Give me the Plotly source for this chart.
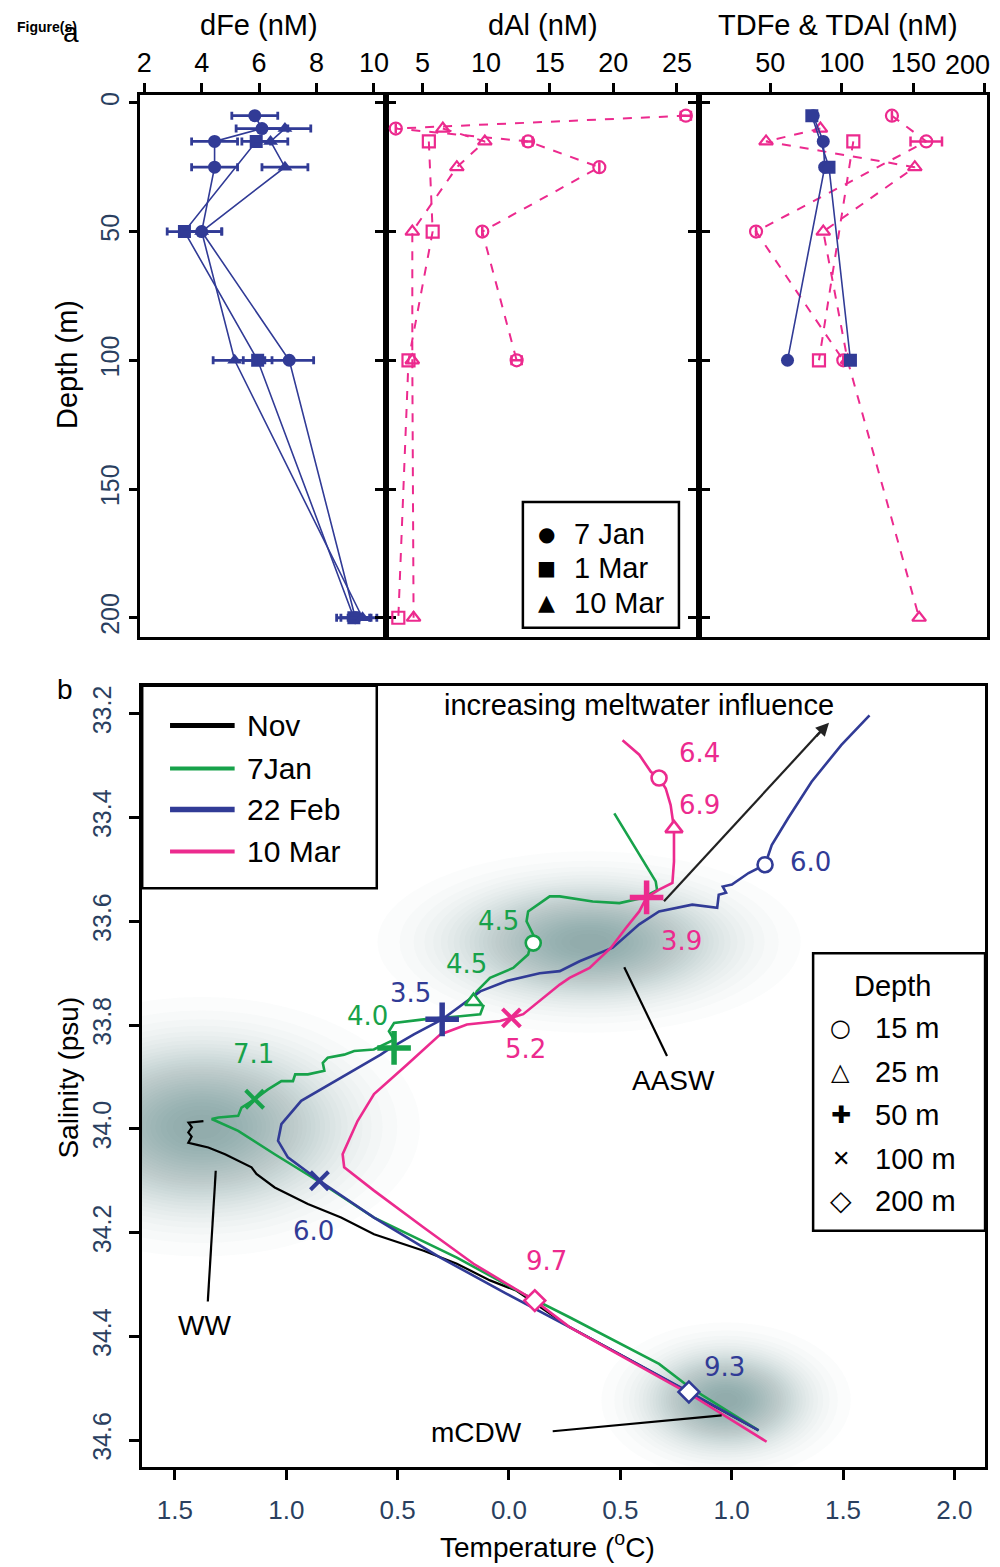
import math
import plotly.graph_objects as go

# ---------------- Panel a data ----------------
depth_ticks = [0, 50, 100, 150, 200]
dfe_ticks = [2, 4, 6, 8, 10]
dal_ticks = [5, 10, 15, 20, 25]
td_ticks = [50, 100, 150, 200]

# dFe (nM), filled markers, solid blue lines
dfe_jan_depth = [5, 10, 15, 25, 50, 100, 200]
dfe_jan = [5.85, 6.1, 4.45, 4.45, 4.0, 7.05, 9.35]
dfe_jan_err = [0.8, 0.9, 0.8, 0.8, 0.7, 0.85, 0.5]
dfe_mar1_depth = [15, 50, 100, 200]
dfe_mar1 = [5.9, 3.4, 5.95, 9.3]
dfe_mar1_err = [0.5, 0.6, 0.5, 0.6]
dfe_mar10_depth = [10, 15, 25, 50, 100, 200]
dfe_mar10 = [6.9, 6.4, 6.9, 4.0, 5.15, 9.6]
dfe_mar10_err = [0.9, 0.6, 0.8, 0.7, 0.75, 0.5]

# dAl (nM), open markers, dashed pink lines
dal_jan_depth = [5, 10, 15, 25, 50, 100]
dal_jan = [25.7, 2.9, 13.3, 18.9, 9.7, 12.4]
dal_jan_err = [0.4, 0.0, 0.35, 0.0, 0.0, 0.4]
dal_mar1_depth = [15, 50, 100, 200]
dal_mar1 = [5.5, 5.8, 3.9, 3.1]
dal_mar10_depth = [10, 15, 25, 50, 100, 200]
dal_mar10 = [6.6, 9.9, 7.7, 4.2, 4.2, 4.3]

# TDFe (blue, filled) and TDAl (pink, open)
tdfe_jan_depth = [5, 15, 25, 100]
tdfe_jan = [80, 87, 88, 62]
tdfe_mar1_depth = [5, 25, 100]
tdfe_mar1 = [79, 91, 106]
tdfe_mar10_depth = [25]
tdfe_mar10 = [90]
tdal_jan_depth = [5, 15, 50, 100]
tdal_jan = [135, 159, 40, 101]
tdal_jan_err = [0, 11, 0, 0]
tdal_mar1_depth = [15, 100]
tdal_mar1 = [108, 84]
tdal_mar10_depth = [10, 15, 25, 50, 100, 200]
tdal_mar10 = [85, 47, 151, 87, 104, 154]

# ---------------- Panel b data ----------------
temp_ticks = [-1.5, -1.0, -0.5, 0.0, 0.5, 1.0, 1.5, 2.0]
temp_ticktext = ["1.5", "1.0", "0.5", "0.0", "0.5", "1.0", "1.5", "2.0"]
sal_ticks = [33.2, 33.4, 33.6, 33.8, 34.0, 34.2, 34.4, 34.6]

nov_T = [-1.372, -1.439, -1.424, -1.440, -1.425, -1.440, -1.400, -1.350, -1.275, -1.156, -1.134,
         -1.052, -0.903, -0.754, -0.606, -0.383, -0.234, -0.085, 0.034, 0.272, 0.55, 0.85, 1.12]
nov_S = [33.985, 33.988, 33.997, 34.007, 34.015, 34.027, 34.031, 34.036, 34.049, 34.074, 34.087,
         34.113, 34.145, 34.171, 34.203, 34.235, 34.260, 34.292, 34.312, 34.382, 34.447, 34.517, 34.581]

jan_T = [0.473, 0.659, 0.665, 0.598, 0.496, 0.376, 0.228, 0.183, 0.086, 0.079, 0.109, 0.086, 0.019,
         -0.085, -0.145, -0.159, -0.115, -0.129, -0.219, -0.383, -0.516, -0.539, -0.516, -0.607,
         -0.695, -0.740, -0.814, -0.836, -0.829, -0.903, -0.96, -0.97, -1.022, -1.082, -1.142, -1.201,
         -1.216, -1.305, -1.335, -1.216, -1.052, -0.859, -0.606, -0.234, 0.064, 0.272, 0.674, 0.808, 1.121]
jan_S = [33.392, 33.523, 33.540, 33.555, 33.565, 33.562, 33.552, 33.552, 33.581, 33.600, 33.626, 33.664, 33.690,
         33.709, 33.735, 33.754, 33.763, 33.779, 33.783, 33.789, 33.796, 33.812, 33.828, 33.847,
         33.850, 33.857, 33.863, 33.873, 33.888, 33.895, 33.895, 33.908, 33.908, 33.924, 33.943, 33.959,
         33.975, 33.978, 33.981, 34.004, 34.049, 34.100, 34.171, 34.248, 34.318, 34.363, 34.453, 34.497, 34.581]

feb_T = [1.619, 1.493, 1.359, 1.254, 1.180, 1.150, 1.076, 1.001, 0.96, 0.975, 0.942, 0.935, 0.823, 0.674,
         0.585, 0.466, 0.317, 0.228, 0.138, -0.010, -0.129, -0.219, -0.300, -0.427, -0.531, -0.576,
         -0.754, -0.933, -1.022, -1.037, -0.993, -0.851, -0.606, -0.308, -0.010, 0.272, 0.808, 1.121]
feb_S = [33.203, 33.260, 33.331, 33.401, 33.453, 33.491, 33.507, 33.529, 33.533, 33.545, 33.549, 33.574, 33.568, 33.581,
         33.606, 33.651, 33.677, 33.696, 33.700, 33.715, 33.735, 33.763, 33.789, 33.818, 33.844, 33.857,
         33.901, 33.946, 33.991, 34.023, 34.055, 34.100, 34.171, 34.248, 34.318, 34.382, 34.507, 34.581]

mar_T = [0.510, 0.585, 0.637, 0.674, 0.704, 0.726, 0.741, 0.741, 0.734, 0.674, 0.618, 0.585, 0.525, 0.458,
         0.362, 0.272, 0.228, 0.138, 0.064, 0.011, -0.040, -0.189, -0.308, -0.457, -0.606, -0.680, -0.747,
         -0.740, -0.606, -0.383, -0.159, 0.116, 0.272, 0.808, 1.157]
mar_S = [33.251, 33.279, 33.312, 33.324, 33.344, 33.376, 33.421, 33.485, 33.526, 33.539, 33.554, 33.581, 33.613, 33.651,
         33.690, 33.709, 33.722, 33.754, 33.779, 33.786, 33.792, 33.799, 33.818, 33.876, 33.933, 33.985, 34.049,
         34.074, 34.119, 34.190, 34.260, 34.331, 34.382, 34.510, 34.603]

# sampling-depth markers on the T-S curves, with dFe labels
jan_mk_depth = [15, 25, 50, 100]
jan_mk_T = [0.109, -0.159, -0.516, -1.142]
jan_mk_S = [33.642, 33.754, 33.844, 33.943]
jan_lab = ["4.5", "4.5", "4.0", "7.1"]
jan_lab_T = [-0.049, -0.192, -0.634, -1.147]
jan_lab_S = [33.600, 33.683, 33.783, 33.856]

feb_mk_depth = [15, 50, 100, 200]
feb_mk_T = [1.150, -0.300, -0.851, 0.808]
feb_mk_S = [33.491, 33.789, 34.100, 34.507]
feb_lab = ["6.0", "3.5", "6.0", "9.3"]
feb_lab_T = [1.353, -0.442, -0.879, 0.969]
feb_lab_S = [33.485, 33.738, 34.196, 34.458]

mar_mk_depth = [15, 25, 50, 100, 200]
mar_mk_T = [0.674, 0.741, 0.618, 0.011, 0.116]
mar_mk_S = [33.324, 33.421, 33.554, 33.786, 34.331]
mar_lab = ["6.4", "6.9", "3.9", "5.2", "9.7"]
mar_lab_T = [0.857, 0.857, 0.777, 0.076, 0.170]
mar_lab_S = [33.275, 33.375, 33.638, 33.846, 34.254]

# ---------------- styling ----------------
BLUE = "#313b96"
PINK = "#ec2a8e"
GREEN = "#17a24a"
BLACK = "#000000"
FONT = "Liberation Sans, Arial, sans-serif"
LFONT = "DejaVu Sans, Verdana, sans-serif"
OFF = 8                      # page body margin of the browser
W, H = 1000 - OFF, 1567 - OFF


def PX(x):
    return (x - OFF) / W


def PY(y):
    return 1 - (y - OFF) / H


fig = go.Figure()

# ---- panel a: dFe ----
for d, v, e, sym in [(dfe_jan_depth, dfe_jan, dfe_jan_err, "circle"),
                     (dfe_mar1_depth, dfe_mar1, dfe_mar1_err, "square"),
                     (dfe_mar10_depth, dfe_mar10, dfe_mar10_err, "triangle-up")]:
    fig.add_trace(go.Scatter(x=v, y=d, mode="lines+markers", xaxis="x", yaxis="y",
                             line=dict(color=BLUE, width=1.6),
                             marker=dict(symbol=sym, size=13, color=BLUE),
                             error_x=dict(type="data", array=e, color=BLUE, thickness=2.8, width=4),
                             showlegend=False, hoverinfo="skip"))

# ---- panel a: dAl ----
for d, v, e, sym in [(dal_jan_depth, dal_jan, dal_jan_err, "circle-open"),
                     (dal_mar1_depth, dal_mar1, None, "square-open"),
                     (dal_mar10_depth, dal_mar10, None, "triangle-up-open")]:
    tr = go.Scatter(x=v, y=d, mode="lines+markers", xaxis="x2", yaxis="y2",
                    line=dict(color=PINK, width=2, dash="dash"),
                    marker=dict(symbol=sym, size=12, color=PINK, line=dict(width=2.2, color=PINK)),
                    showlegend=False, hoverinfo="skip")
    if e is not None:
        tr.error_x = dict(type="data", array=e, color=PINK, thickness=2.5, width=5)
    fig.add_trace(tr)

# ---- panel a: TDFe & TDAl ----
for d, v, e, sym in [(tdal_jan_depth, tdal_jan, tdal_jan_err, "circle-open"),
                     (tdal_mar1_depth, tdal_mar1, None, "square-open"),
                     (tdal_mar10_depth, tdal_mar10, None, "triangle-up-open")]:
    tr = go.Scatter(x=v, y=d, mode="lines+markers", xaxis="x3", yaxis="y3",
                    line=dict(color=PINK, width=2, dash="dash"),
                    marker=dict(symbol=sym, size=12, color=PINK, line=dict(width=2.2, color=PINK)),
                    showlegend=False, hoverinfo="skip")
    if e is not None:
        tr.error_x = dict(type="data", array=e, color=PINK, thickness=2.5, width=5)
    fig.add_trace(tr)
for d, v, sym in [(tdfe_jan_depth, tdfe_jan, "circle"),
                  (tdfe_mar1_depth, tdfe_mar1, "square"),
                  (tdfe_mar10_depth, tdfe_mar10, "triangle-up")]:
    fig.add_trace(go.Scatter(x=v, y=d, mode="lines+markers", xaxis="x3", yaxis="y3",
                             line=dict(color=BLUE, width=1.6),
                             marker=dict(symbol=sym, size=13, color=BLUE),
                             showlegend=False, hoverinfo="skip"))

# ---- panel b: T-S curves ----
for T, S, col, w in [(nov_T, nov_S, BLACK, 2.2), (jan_T, jan_S, GREEN, 2.6),
                     (feb_T, feb_S, BLUE, 2.6), (mar_T, mar_S, PINK, 2.6)]:
    fig.add_trace(go.Scatter(x=T, y=S, mode="lines", xaxis="x4", yaxis="y4",
                             line=dict(color=col, width=w), showlegend=False, hoverinfo="skip"))

SYM = {15: "circle", 25: "triangle-up", 50: "cross-thin", 100: "x-thin", 200: "diamond"}
SIZE = {15: 15, 25: 15, 50: 24, 100: 18, 200: 16}
LW = {15: 2.6, 25: 2.6, 50: 5.5, 100: 4, 200: 2.6}
for dep, T, S, col in [(jan_mk_depth, jan_mk_T, jan_mk_S, GREEN),
                       (feb_mk_depth, feb_mk_T, feb_mk_S, BLUE),
                       (mar_mk_depth, mar_mk_T, mar_mk_S, PINK)]:
    for group in (15, 25, 50, 100, 200):
        idx = [i for i, dd in enumerate(dep) if dd == group]
        if not idx:
            continue
        fig.add_trace(go.Scatter(
            x=[T[i] for i in idx], y=[S[i] for i in idx], mode="markers", xaxis="x4", yaxis="y4",
            marker=dict(symbol=SYM[group], size=SIZE[group],
                        color=col if group in (50, 100) else "white",
                        line=dict(color=col, width=LW[group])),
            showlegend=False, hoverinfo="skip"))

annotations = []
for labs, LT, LS, col in [(jan_lab, jan_lab_T, jan_lab_S, GREEN),
                          (feb_lab, feb_lab_T, feb_lab_S, BLUE),
                          (mar_lab, mar_lab_T, mar_lab_S, PINK)]:
    for t, x, y in zip(labs, LT, LS):
        annotations.append(dict(text=t, x=x, y=y, xref="x4", yref="y4", showarrow=False,
                                font=dict(family=LFONT, size=26, color=col)))

# ---- shading blobs (water masses): gaussian-like stack of ellipses ----
shapes = []
NL = 34
radii = [math.sqrt(2 * math.log(NL / i)) / math.sqrt(2 * math.log(NL)) for i in range(1, NL)]
for cT, cS, aT, aS, alpha in [(0.36, 33.640, 0.95, 0.175, 0.021),
                              (-1.38, 33.996, 0.98, 0.25, 0.021),
                              (0.975, 34.523, 0.56, 0.15, 0.020)]:
    for k in radii:
        shapes.append(dict(type="circle", xref="x4", yref="y4", layer="below",
                           x0=cT - k * aT, x1=cT + k * aT, y0=cS - k * aS, y1=cS + k * aS,
                           fillcolor="rgba(72,80,104,%.3f)" % alpha, line=dict(width=0)))


# ---- text & pointer lines ----
def ptext(text, x, y, size=29, xanchor="center", color=BLACK, family=FONT, **kw):
    d = dict(text=text, x=PX(x), y=PY(y), xref="paper", yref="paper", showarrow=False,
             xanchor=xanchor, yanchor="middle", font=dict(family=family, size=size, color=color))
    d.update(kw)
    annotations.append(d)


def pline(x0, y0, x1, y1, w=2.2, color=BLACK):
    shapes.append(dict(type="line", xref="paper", yref="paper", x0=PX(x0), y0=PY(y0),
                       x1=PX(x1), y1=PY(y1), line=dict(color=color, width=w)))


def prect(x0, y0, x1, y1, w=2.5):
    shapes.append(dict(type="rect", xref="paper", yref="paper", x0=PX(x0), y0=PY(y0),
                       x1=PX(x1), y1=PY(y1), line=dict(color=BLACK, width=w), fillcolor="white"))


ptext("increasing meltwater influence", 640, 703, size=29)
pline(665, 900, 826, 726, w=2.2, color="#222")
annotations.append(dict(x=PX(831), y=PY(721), xref="paper", yref="paper", ax=-14, ay=15,
                        showarrow=True, arrowhead=2, arrowsize=1.2, arrowwidth=2.2, arrowcolor="#222",
                        text=""))
ptext("AASW", 675, 1080, size=28)
pline(625, 966, 668, 1055)
ptext("WW", 203, 1325, size=28)
pline(214, 1170, 206, 1301)
ptext("mCDW", 476, 1432, size=28)
pline(553, 1431, 723, 1415)

# axis titles and panel labels
ptext("dFe (nM)", 258, 22, size=29)
ptext("dAl (nM)", 543, 22, size=29)
ptext("TDFe &amp; TDAl (nM)", 840, 22, size=29)
ptext("200", 970, 62, size=27)
ptext("Depth (m)", 65, 362, size=29, textangle=-90)
ptext("Salinity (psu)", 66, 1077, size=28, textangle=-90)
ptext("Temperature (<sup>o</sup>C)", 548, 1545, size=28)
ptext("<b>Figure(s)</b>", 12, 24, size=14, xanchor="left")
ptext("a", 68, 30, size=28)
ptext("b", 62, 688, size=28)

# legend: panel a
prect(523, 500, 680, 626)
for glyph, lab, y, gs in [("●", "7 Jan", 532, 20), ("■", "1 Mar", 566, 20), ("▲", "10 Mar", 601, 22)]:
    ptext(glyph, 547, y, size=gs, family=LFONT)
    ptext(lab, 572, y, size=29, xanchor="left")

# legend: panel b lines
prect(140, 684, 376, 887)
for col, lab, y, w in [(BLACK, "Nov", 724, 5), (GREEN, "7Jan", 767, 4), (BLUE, "22 Feb", 808, 5.5), (PINK, "10 Mar", 850, 4)]:
    pline(168, y, 233, y, w=w, color=col)
    ptext(lab, 243, y, size=30, xanchor="left")

# legend: depth symbols
prect(815, 952, 988, 1230)
ptext("Depth", 895, 985, size=29)
for glyph, lab, y, gs in [("○", "15 m", 1027, 24), ("△", "25 m", 1071, 24), ("✚", "50 m", 1114, 24),
                          ("✕", "100 m", 1158, 22), ("◇", "200 m", 1200, 28)]:
    ptext(glyph, 843, y, size=gs, family=LFONT)
    ptext(lab, 875, y, size=29, xanchor="left")

# ---------------- axes ----------------
ax_common = dict(showgrid=False, zeroline=False, showline=True, linecolor=BLACK, linewidth=2.5,
                 ticks="outside", tickwidth=2.5, tickcolor=BLACK, ticklen=9,
                 tickfont=dict(family=FONT, size=27, color=BLACK))
ya_dom = [PY(635), PY(92)]
depth_range = [207.4, -3.1]

fig.update_layout(
    width=W, height=H, margin=dict(l=0, r=0, t=0, b=0), autosize=False,
    paper_bgcolor="white", plot_bgcolor="white", showlegend=False,
    xaxis=dict(ax_common, domain=[PX(138), PX(385)], range=[1.86, 10.41], side="top", anchor="y",
               tickvals=dfe_ticks, mirror=True),
    yaxis=dict(ax_common, domain=ya_dom, range=depth_range, anchor="x", tickvals=depth_ticks,
               tickangle=-90, mirror="ticks", ticklen=8, tickfont=dict(family=FONT, size=25)),
    xaxis2=dict(ax_common, domain=[PX(385), PX(700)], range=[2.11, 26.72], side="top", anchor="y2",
                tickvals=dal_ticks, mirror=True),
    yaxis2=dict(ax_common, domain=ya_dom, range=depth_range, anchor="x2", tickvals=depth_ticks,
                showticklabels=False, mirror="ticks", ticklen=8),
    xaxis3=dict(ax_common, domain=[PX(700), PX(990)], range=[0, 201.5], side="top", anchor="y3",
                tickvals=td_ticks, ticktext=["50", "100", "150", ""], mirror=True),
    yaxis3=dict(ax_common, domain=ya_dom, range=depth_range, anchor="x3", tickvals=depth_ticks,
                showticklabels=False, mirror=True, ticklen=8),
    xaxis4=dict(ax_common, domain=[PX(140), PX(988)], range=[-1.647, 2.138], anchor="y4",
                tickvals=temp_ticks, ticktext=temp_ticktext, mirror=True, ticklen=10,
                ticklabelstandoff=8, tickfont=dict(family=FONT, size=26)),
    yaxis4=dict(ax_common, domain=[PY(1467), PY(684)], range=[34.652, 33.146], anchor="x4",
                tickvals=sal_ticks, tickformat=".1f", tickangle=-90, mirror=True, ticklen=10,
                ticklabelstandoff=8, tickfont=dict(family=FONT, size=25)),
    shapes=shapes,
    annotations=annotations,
)

fig.write_html("out.html")
